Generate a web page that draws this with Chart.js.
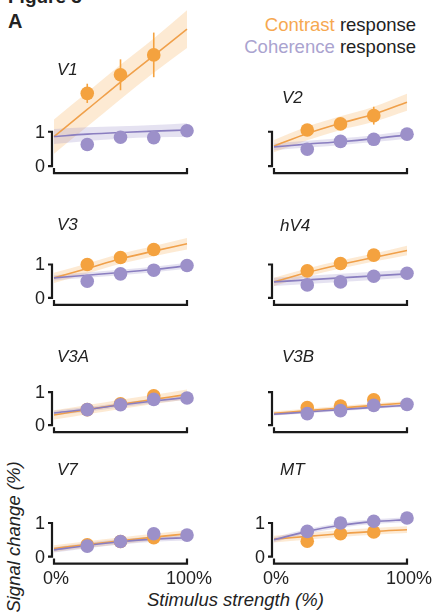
<!DOCTYPE html>
<html>
<head>
<meta charset="utf-8">
<script src="https://cdn.jsdelivr.net/npm/chart.js@4.4.1/dist/chart.umd.min.js"></script>
<style>
body { margin: 0; background: #fff; }
#fig { position: relative; width: 436px; height: 613px; overflow: hidden; font-family: "Liberation Sans", Arial, sans-serif; color: #222; }
#fig canvas { position: absolute; }
.txt { position: absolute; white-space: nowrap; line-height: 20px; }
</style>
</head>
<body>
<div id="fig">
  <div class="txt" style="left:8px;top:-12.6px;font-weight:bold;font-size:19px">Figure 3</div>
  <div class="txt" style="left:8px;top:11.4px;font-weight:bold;font-size:20px">A</div>
  <div class="txt" style="right:20px;top:14.6px;font-size:18.5px;text-align:right"><span style="color:#f6a850">Contrast</span> response</div>
  <div class="txt" style="right:20px;top:36.6px;font-size:18.5px;text-align:right"><span style="color:#aaa3cf">Coherence</span> response</div>
  <div class="txt" style="left:147px;top:589.6px;font-size:18.5px;font-style:italic">Stimulus strength (%)</div>
  <div class="txt" style="left:14px;top:537px;font-size:18.5px;font-style:italic;transform:translate(-50%,-50%) rotate(-90deg)">Signal change (%)</div>
</div>
<script>
// regions, in reading order (left, right per row)
var regions = ['V1', 'V2', 'V3', 'hV4', 'V3A', 'V3B', 'V7', 'MT'];

var contrastLevels = [25, 50, 75];
var coherenceLevels = [25, 50, 75, 100];
var fitLevels = [0, 25, 50, 75, 100];

var xTicks = [0, 100];
var xTickLabels = ['0%', '100%'];
var yTicks = [0, 1];
var yTickLabels = ['0', '1'];

// contrast response (orange)
var contrastMean = [
  [2.12, 2.66, 3.24],
  [1.05, 1.23, 1.47],
  [1.00, 1.21, 1.45],
  [0.81, 1.03, 1.28],
  [0.47, 0.65, 0.89],
  [0.53, 0.58, 0.77],
  [0.35, 0.45, 0.56],
  [0.46, 0.68, 0.73]
];
var contrastErr = [
  [0.28, 0.45, 0.65],
  [0.06, 0.06, 0.26],
  [0.05, 0.06, 0.12],
  [0.05, 0.05, 0.06],
  [0.04, 0.05, 0.06],
  [0.04, 0.05, 0.06],
  [0.04, 0.04, 0.05],
  [0.04, 0.05, 0.05]
];
var contrastFit = [
  [0.86, 1.65, 2.45, 3.22, 3.99],
  [0.58, 0.95, 1.25, 1.51, 1.86],
  [0.60, 0.88, 1.17, 1.40, 1.62],
  [0.48, 0.76, 1.00, 1.21, 1.42],
  [0.31, 0.47, 0.63, 0.78, 0.93],
  [0.36, 0.44, 0.52, 0.60, 0.67],
  [0.24, 0.36, 0.47, 0.58, 0.68],
  [0.52, 0.60, 0.68, 0.75, 0.80]
];
var contrastBand = [
  [0.50, 0.50, 0.50, 0.50, 0.55],
  [0.18, 0.20, 0.20, 0.22, 0.25],
  [0.15, 0.15, 0.15, 0.15, 0.17],
  [0.12, 0.12, 0.12, 0.12, 0.14],
  [0.14, 0.14, 0.14, 0.14, 0.15],
  [0.06, 0.06, 0.06, 0.06, 0.06],
  [0.10, 0.10, 0.10, 0.10, 0.10],
  [0.10, 0.10, 0.10, 0.10, 0.10]
];

// coherence response (purple)
var coherenceMean = [
  [0.63, 0.84, 0.83, 1.03],
  [0.49, 0.72, 0.78, 0.93],
  [0.50, 0.72, 0.83, 0.97],
  [0.39, 0.48, 0.65, 0.74],
  [0.47, 0.62, 0.78, 0.82],
  [0.35, 0.44, 0.60, 0.63],
  [0.31, 0.45, 0.68, 0.64],
  [0.75, 1.00, 1.05, 1.15]
];
var coherenceErr = [
  [0.04, 0.06, 0.12, 0.04],
  [0.04, 0.04, 0.04, 0.04],
  [0.04, 0.04, 0.04, 0.04],
  [0.04, 0.04, 0.15, 0.04],
  [0.04, 0.04, 0.04, 0.04],
  [0.04, 0.04, 0.04, 0.04],
  [0.04, 0.04, 0.04, 0.04],
  [0.04, 0.04, 0.04, 0.04]
];
var coherenceFit = [
  [0.86, 0.93, 0.98, 1.02, 1.05],
  [0.56, 0.64, 0.71, 0.80, 0.91],
  [0.60, 0.68, 0.76, 0.85, 0.96],
  [0.48, 0.54, 0.60, 0.66, 0.72],
  [0.37, 0.48, 0.61, 0.73, 0.84],
  [0.33, 0.40, 0.47, 0.54, 0.60],
  [0.20, 0.33, 0.44, 0.52, 0.56],
  [0.50, 0.75, 0.93, 1.04, 1.10]
];
var coherenceBand = [
  [0.22, 0.20, 0.18, 0.18, 0.20],
  [0.10, 0.10, 0.10, 0.10, 0.11],
  [0.08, 0.08, 0.08, 0.08, 0.09],
  [0.12, 0.12, 0.12, 0.12, 0.12],
  [0.07, 0.07, 0.07, 0.07, 0.07],
  [0.04, 0.04, 0.04, 0.04, 0.04],
  [0.08, 0.08, 0.08, 0.08, 0.08],
  [0.07, 0.07, 0.07, 0.07, 0.07]
];

// layout
var U = 35.7; // px per 1% signal change
var colLeft = [0, 220];
var rowTop = [0, 200, 340, 450];
var rowHeight = [200, 140, 110, 163];
var rowZero = [165.7, 297.3, 424.5, 556];
var titlePos = [[57, 75], [282, 103], [57, 230], [280, 231], [57, 362], [282, 362], [57, 475], [280, 475]];

var orange = '#f4a23f', orangeLine = '#f0a04a', orangeBand = 'rgba(247,170,80,0.25)';
var purple = '#9c90c9', purpleLine = '#8a7ec0', purpleBand = 'rgba(150,138,200,0.25)';
var axisColor = '#1a1a1a';
var font = '"Liberation Sans", Arial, sans-serif';

var errorBars = {
  id: 'errorBars',
  beforeDatasetDraw: function (chart, args) {
    var ds = chart.data.datasets[args.index];
    if (!ds.err) return;
    var ctx = chart.ctx, xs = chart.scales.x, ys = chart.scales.y;
    ctx.save();
    ctx.strokeStyle = ds.pointBackgroundColor;
    ctx.lineWidth = 1.6;
    ds.data.forEach(function (p, i) {
      var x = xs.getPixelForValue(p.x);
      ctx.beginPath();
      ctx.moveTo(x, ys.getPixelForValue(p.y - ds.err[i]));
      ctx.lineTo(x, ys.getPixelForValue(p.y + ds.err[i]));
      ctx.stroke();
    });
    ctx.restore();
  }
};

var brackets = {
  id: 'brackets',
  afterDraw: function (chart, args, opts) {
    var ctx = chart.ctx, xs = chart.scales.x, ys = chart.scales.y;
    var xa = xs.getPixelForValue(xTicks[0]), xb = xs.getPixelForValue(xTicks[1]);
    var ya = ys.getPixelForValue(yTicks[0]), yb = ys.getPixelForValue(yTicks[1]);
    ctx.save();
    ctx.strokeStyle = axisColor;
    ctx.lineWidth = 2.2;
    var bx = xa - 2;
    ctx.beginPath();
    ctx.moveTo(bx - 4, yb); ctx.lineTo(bx, yb); ctx.lineTo(bx, ya); ctx.lineTo(bx - 4, ya);
    ctx.stroke();
    var by = ya + 7;
    ctx.beginPath();
    ctx.moveTo(xa, by - 5); ctx.lineTo(xa, by); ctx.lineTo(xb, by); ctx.lineTo(xb, by - 5);
    ctx.stroke();

    ctx.fillStyle = '#222';
    ctx.font = '18px ' + font;
    if (opts.yLabels) {
      ctx.textAlign = 'right';
      ctx.textBaseline = 'middle';
      for (var i = 0; i < yTicks.length; i++) {
        ctx.fillText(yTickLabels[i], bx - 7, ys.getPixelForValue(yTicks[i]) + 1);
      }
    }
    if (opts.xLabels) {
      ctx.textAlign = 'center';
      ctx.textBaseline = 'alphabetic';
      for (var j = 0; j < xTicks.length; j++) {
        ctx.fillText(xTickLabels[j], xs.getPixelForValue(xTicks[j]) + 2, by + 20);
      }
    }
    ctx.font = 'italic 17px ' + font;
    ctx.textAlign = 'left';
    ctx.textBaseline = 'alphabetic';
    ctx.fillText(opts.title, opts.tx, opts.ty);
    ctx.restore();
  }
};

function pts(xv, yv) {
  var out = [];
  for (var i = 0; i < xv.length; i++) out.push({ x: xv[i], y: yv[i] });
  return out;
}
function shifted(yv, hw, sign) {
  var out = [];
  for (var i = 0; i < yv.length; i++) out.push({ x: fitLevels[i], y: yv[i] + sign * hw[i] });
  return out;
}
function bandSet(data, color, fill, order) {
  return { data: data, fill: fill, backgroundColor: color, borderColor: 'rgba(0,0,0,0)', borderWidth: 0,
    pointRadius: 0, cubicInterpolationMode: 'monotone', order: order, clip: false };
}

var fig = document.getElementById('fig');

regions.forEach(function (name, k) {
  var col = k % 2, row = Math.floor(k / 2);
  var W = 216, H = rowHeight[row];
  var cv = document.createElement('canvas');
  cv.width = W; cv.height = H;
  cv.style.left = colLeft[col] + 'px';
  cv.style.top = rowTop[row] + 'px';
  cv.style.width = W + 'px';
  cv.style.height = H + 'px';
  fig.appendChild(cv);

  var zero = rowZero[row] - rowTop[row];
  var below = 10;

  new Chart(cv, {
    type: 'line',
    data: {
      datasets: [
        bandSet(shifted(contrastFit[k], contrastBand[k], -1), orangeBand, false, 6),
        bandSet(shifted(contrastFit[k], contrastBand[k], 1), orangeBand, '-1', 6),
        bandSet(shifted(coherenceFit[k], coherenceBand[k], -1), purpleBand, false, 5),
        bandSet(shifted(coherenceFit[k], coherenceBand[k], 1), purpleBand, '-1', 5),
        { data: pts(fitLevels, contrastFit[k]), borderColor: orangeLine, borderWidth: 1.6, pointRadius: 0,
          cubicInterpolationMode: 'monotone', fill: false, order: 3, clip: false },
        { data: pts(fitLevels, coherenceFit[k]), borderColor: purpleLine, borderWidth: 1.6, pointRadius: 0,
          cubicInterpolationMode: 'monotone', fill: false, order: 2, clip: false },
        { data: pts(contrastLevels, contrastMean[k]), err: contrastErr[k], showLine: false, pointRadius: 6.8,
          pointBackgroundColor: orange, pointBorderWidth: 0, order: 1, clip: false },
        { data: pts(coherenceLevels, coherenceMean[k]), err: coherenceErr[k], showLine: false, pointRadius: 6.8,
          pointBackgroundColor: purple, pointBorderWidth: 0, order: 0, clip: false }
      ]
    },
    options: {
      responsive: false,
      animation: false,
      devicePixelRatio: 1,
      layout: { padding: { left: 54, right: 29, top: 0, bottom: H - zero - below } },
      scales: {
        x: { type: 'linear', min: 0, max: 100, display: false },
        y: { type: 'linear', min: -below / U, max: zero / U, display: false }
      },
      plugins: {
        legend: { display: false },
        tooltip: { enabled: false },
        brackets: {
          title: name,
          tx: titlePos[k][0] - colLeft[col],
          ty: titlePos[k][1] - rowTop[row],
          yLabels: col === 0 || name === 'MT',
          xLabels: row === 3
        }
      }
    },
    plugins: [errorBars, brackets]
  });
});
</script>
</body>
</html>
